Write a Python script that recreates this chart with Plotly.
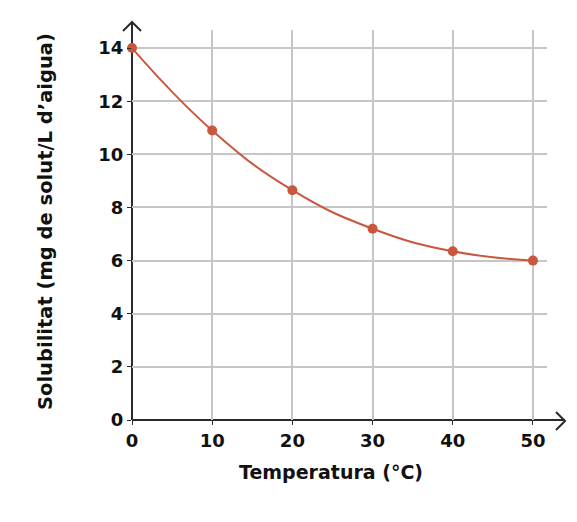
import plotly.graph_objects as go

temperature = [0, 10, 20, 30, 40, 50]
solubility = [14.0, 10.9, 8.65, 7.2, 6.35, 6.0]
x_ticks = [0, 10, 20, 30, 40, 50]
y_ticks = [0, 2, 4, 6, 8, 10, 12, 14]

# page body has an 8px margin; positions below are in window pixels
OFF = 8
W, H = 577 - OFF, 522 - OFF
L, R, T = 132 - OFF, 30, 30 - OFF
B = H - (420 - OFF)
PW, PH = W - L - R, H - T - B

def px(x):
    return (x - OFF - L) / PW

def py(y):
    return (H - B - (y - OFF)) / PH

line_color = "#c9573e"
axis_color = "#2b2b2b"
grid_color = "#c6c6c6"
font_family = "DejaVu Sans, sans-serif"

fig = go.Figure()
fig.add_trace(go.Scatter(
    x=temperature, y=solubility, mode="lines+markers",
    line=dict(color=line_color, width=2, shape="spline", smoothing=1.25),
    marker=dict(color=line_color, size=10),
    cliponaxis=False, showlegend=False, hoverinfo="skip",
))

shapes = [
    dict(type="line", xref="paper", yref="paper", x0=px(132), y0=py(420), x1=px(565), y1=py(420),
         line=dict(color=axis_color, width=2), layer="between"),
    dict(type="line", xref="paper", yref="paper", x0=px(132), y0=py(420), x1=px(132), y1=py(22),
         line=dict(color=axis_color, width=2), layer="between"),
    dict(type="path", xref="paper", yref="paper",
         path=f"M{px(556)},{py(412)} L{px(565)},{py(421)} L{px(556)},{py(430)}",
         line=dict(color=axis_color, width=2), layer="between"),
    dict(type="path", xref="paper", yref="paper",
         path=f"M{px(123)},{py(31)} L{px(132)},{py(22)} L{px(141)},{py(31)}",
         line=dict(color=axis_color, width=2), layer="between"),
]

annotations = [
    dict(text="<b>Temperatura (°C)</b>", xref="paper", yref="paper",
         x=px(331), y=py(472), xanchor="center", yanchor="middle", showarrow=False,
         font=dict(size=19, family=font_family, color="#111111")),
    dict(text="<b>Solubilitat (mg de solut/L d’aigua)</b>", xref="paper", yref="paper",
         x=px(45), y=py(222), xanchor="center", yanchor="middle", showarrow=False, textangle=-90,
         font=dict(size=19.5, family=font_family, color="#111111")),
]

fig.update_layout(
    width=W, height=H,
    margin=dict(l=L, r=R, t=T, b=B, autoexpand=False),
    paper_bgcolor="white", plot_bgcolor="white",
    font=dict(family=font_family, color="#111111"),
    shapes=shapes, annotations=annotations,
    xaxis=dict(
        range=[0, 51.75], tickvals=x_ticks, ticktext=[str(v) for v in x_ticks],
        showgrid=True, gridcolor=grid_color, gridwidth=1.5,
        zeroline=False, showline=False, automargin=False,
        ticks="outside", ticklen=4, tickcolor=axis_color,
        tickfont=dict(size=18, family=font_family, weight="bold"),
    ),
    yaxis=dict(
        range=[0, 14.68], tickvals=y_ticks, ticktext=[str(v) for v in y_ticks],
        showgrid=True, gridcolor=grid_color, gridwidth=1.5,
        zeroline=False, showline=False, automargin=False,
        ticks="outside", ticklen=4, tickcolor=axis_color,
        tickfont=dict(size=18, family=font_family, weight="bold"),
    ),
)

fig.write_html("out.html")
